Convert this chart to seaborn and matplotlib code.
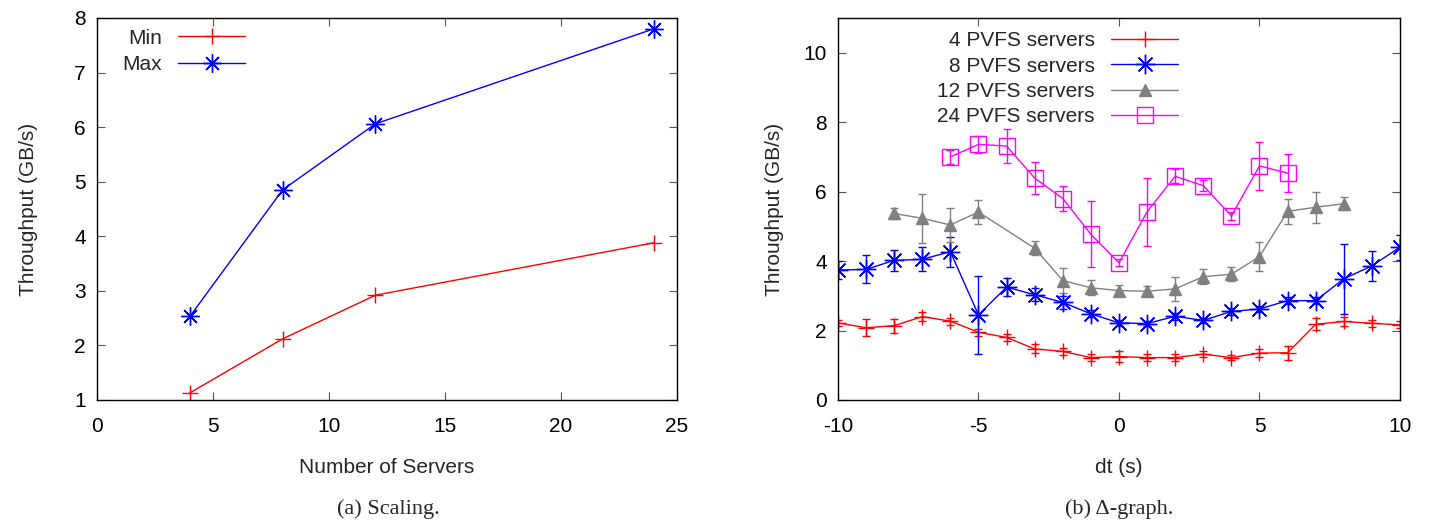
import matplotlib
matplotlib.use("Agg")
import matplotlib.pyplot as plt
import seaborn as sns

# ---- data: (a) scaling ----
servers = [4, 8, 12, 24]
thr_min = [1.13, 2.12, 2.92, 3.88]
thr_max = [2.53, 4.85, 6.06, 7.80]

# ---- data: (b) delta-graph ----
dt_4 = list(range(-10, 11))
thr_4 = [2.22, 2.08, 2.14, 2.40, 2.27, 1.95, 1.80, 1.47, 1.40, 1.22, 1.25,
         1.22, 1.22, 1.32, 1.22, 1.35, 1.36, 2.18, 2.26, 2.21, 2.16]
err_4 = [0.08, 0.25, 0.20, 0.12, 0.10, 0.10, 0.10, 0.13, 0.10, 0.10, 0.15,
         0.10, 0.10, 0.08, 0.08, 0.12, 0.20, 0.17, 0.13, 0.10, 0.10]

dt_8 = list(range(-10, 11))
thr_8 = [3.74, 3.76, 4.02, 4.05, 4.27, 2.45, 3.25, 3.03, 2.81, 2.48, 2.22,
         2.20, 2.41, 2.29, 2.55, 2.62, 2.86, 2.86, 3.49, 3.86, 4.40]
err_8 = [0.27, 0.40, 0.30, 0.35, 0.43, 1.12, 0.27, 0.18, 0.18, 0.10, 0.08,
         0.08, 0.10, 0.08, 0.10, 0.10, 0.10, 0.10, 1.01, 0.42, 0.36]

dt_12 = [-8, -7, -6, -5, -3, -2, -1, 0, 1, 2, 3, 4, 5, 6, 7, 8]
thr_12 = [5.37, 5.23, 5.04, 5.41, 4.37, 3.44, 3.23, 3.15, 3.13, 3.20, 3.55,
          3.62, 4.13, 5.43, 5.55, 5.65]
err_12 = [0.17, 0.70, 0.50, 0.35, 0.20, 0.36, 0.22, 0.17, 0.15, 0.35, 0.21,
          0.20, 0.42, 0.35, 0.45, 0.18]

dt_24 = list(range(-6, 7))
thr_24 = [7.00, 7.36, 7.31, 6.39, 5.80, 4.77, 3.95, 5.42, 6.44, 6.17, 5.30,
          6.74, 6.53]
err_24 = [0.20, 0.25, 0.50, 0.45, 0.36, 0.95, 0.10, 0.98, 0.20, 0.15, 0.12,
          0.70, 0.55]

sns.set_theme(style="ticks")
plt.rcParams["font.family"] = ["Liberation Sans", "DejaVu Sans"]
plt.rcParams["axes.unicode_minus"] = False

ASTER = (8, 2, 0)
FS = 15
SERIF = ["Liberation Serif", "DejaVu Serif"]

fig = plt.figure(figsize=(14.29, 5.27), dpi=100)
ax1 = fig.add_axes([0.0679, 0.241, 0.4059, 0.725])
ax2 = fig.add_axes([0.5864, 0.241, 0.3933, 0.725])


def style_axis(ax):
    for s in ax.spines.values():
        s.set_color("black")
        s.set_linewidth(1.0)
    ax.tick_params(direction="in", top=True, right=True, length=6,
                   width=0.8, color="#555555", labelsize=FS,
                   labelcolor="black")
    ax.tick_params(axis="x", pad=12)
    ax.tick_params(axis="y", pad=8)


# ---- (a) ----
sns.lineplot(x=servers, y=thr_min, ax=ax1, color="red", lw=1, marker="+",
             markersize=11, mec="red", mew=1, label="Min")
sns.lineplot(x=servers, y=thr_max, ax=ax1, color="blue", lw=1, marker=ASTER,
             markersize=13, mec="blue", mew=1, label="Max")
ax1.set_xlim(0, 25)
ax1.set_ylim(1, 8)
ax1.set_xticks(range(0, 26, 5))
ax1.set_yticks(range(1, 9))
ax1.set_xlabel("Number of Servers", fontsize=FS, labelpad=16)
ax1.set_ylabel("Throughput (GB/s)", fontsize=FS, labelpad=26)
style_axis(ax1)
ax1.legend(loc="upper right", bbox_to_anchor=(0.266, 0.988), frameon=False,
           markerfirst=False, fontsize=FS, handlelength=3.2,
           labelspacing=0.35, borderaxespad=0, borderpad=0.3,
           handletextpad=0.8)

# ---- (b) ----
series = [
    (dt_4, thr_4, err_4, "red", "+", 11, "red", "4 PVFS servers"),
    (dt_8, thr_8, err_8, "blue", ASTER, 14, "blue", "8 PVFS servers"),
    (dt_12, thr_12, err_12, "gray", "^", 8, "gray", "12 PVFS servers"),
    (dt_24, thr_24, err_24, "magenta", "s", 11, "none", "24 PVFS servers"),
]
for x, y, e, c, m, ms, fc, lab in series:
    ax2.errorbar(x, y, yerr=e, fmt="none", ecolor=c, elinewidth=1,
                 capsize=3, capthick=1)
    sns.lineplot(x=x, y=y, ax=ax2, color=c, lw=1, marker=m, markersize=ms,
                 mec=c, mfc=fc, mew=1, label=lab)
ax2.set_xlim(-10, 10)
ax2.set_ylim(0, 11)
ax2.set_xticks(range(-10, 11, 5))
ax2.set_yticks(range(0, 11, 2))
ax2.set_xlabel("dt (s)", fontsize=FS, labelpad=16)
ax2.set_ylabel("Throughput (GB/s)", fontsize=FS, labelpad=14)
style_axis(ax2)
ax2.legend(loc="upper right", bbox_to_anchor=(0.616, 0.982), frameon=False,
           markerfirst=False, fontsize=FS, handlelength=3.2,
           labelspacing=0.31, borderaxespad=0, borderpad=0.3,
           handletextpad=0.8)

# captions
fig.text(0.2715, 0.034, "(a) Scaling.", ha="center", va="center",
         fontsize=16, family=SERIF)
fig.text(0.783, 0.034, "(b) \u0394-graph.", ha="center", va="center",
         fontsize=16, family=SERIF)

fig.savefig("out.png", dpi=100)
